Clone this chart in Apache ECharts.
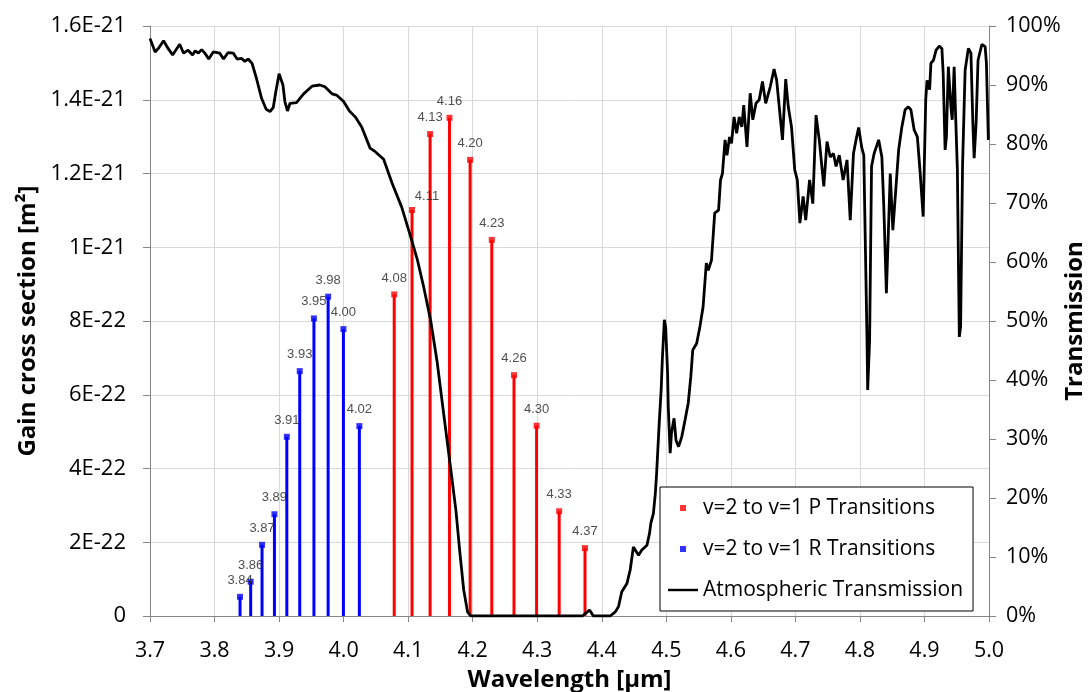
<!DOCTYPE html>
<html>
<head>
<meta charset="utf-8">
<script src="https://cdn.jsdelivr.net/npm/echarts@6/dist/echarts.min.js"></script>
<style>
  html, body { margin: 0; padding: 0; background: #fff; }
  #chart { width: 1089px; height: 692px; }
</style>
</head>
<body>
<div id="chart"></div>
<script>
// v=2 -> v=1 P-branch lines: wavelength [µm] and gain cross section [1E-22 m²]
const pWavelength = [4.0784, 4.106, 4.134, 4.164, 4.196, 4.2296, 4.264, 4.299, 4.334, 4.374];
const pGain       = [8.72, 11.01, 13.07, 13.51, 12.37, 10.20, 6.53, 5.16, 2.84, 1.84];

// v=2 -> v=1 R-branch lines
const rWavelength = [3.8395, 3.856, 3.8736, 3.8928, 3.912, 3.932, 3.954, 3.976, 3.9997, 4.0244];
const rGain       = [0.52, 0.93, 1.93, 2.76, 4.86, 6.64, 8.07, 8.66, 7.78, 5.15];

// Atmospheric transmission [%] versus wavelength [µm]
const atmWavelength = [
  3.700, 3.708, 3.713, 3.721, 3.728, 3.735, 3.746, 3.752, 3.759, 3.766,
  3.770, 3.775, 3.780, 3.785, 3.791, 3.798, 3.808, 3.814, 3.821, 3.829,
  3.835, 3.842, 3.847, 3.852, 3.858, 3.865, 3.873, 3.880, 3.886, 3.891,
  3.895, 3.900, 3.906, 3.909, 3.913, 3.917, 3.927, 3.938, 3.945, 3.951,
  3.963, 3.971, 3.982, 3.989, 4.000, 4.009, 4.018, 4.028, 4.041, 4.049,
  4.062, 4.075, 4.090, 4.103, 4.114, 4.124, 4.135, 4.145, 4.155, 4.166,
  4.174, 4.180, 4.186, 4.192, 4.197, 4.370, 4.381, 4.387, 4.413, 4.421,
  4.426, 4.431, 4.439, 4.444, 4.449, 4.452, 4.457, 4.462, 4.470, 4.474,
  4.476, 4.480, 4.483, 4.485, 4.489, 4.492, 4.494, 4.497, 4.499, 4.502,
  4.503, 4.506, 4.508, 4.512, 4.515, 4.519, 4.524, 4.529, 4.534, 4.538,
  4.541, 4.547, 4.552, 4.557, 4.562, 4.565, 4.570, 4.575, 4.581, 4.584,
  4.587, 4.591, 4.594, 4.598, 4.601, 4.605, 4.609, 4.613, 4.617, 4.620,
  4.625, 4.630, 4.634, 4.639, 4.644, 4.649, 4.654, 4.661, 4.667, 4.671,
  4.675, 4.680, 4.685, 4.689, 4.694, 4.699, 4.703, 4.707, 4.712, 4.716,
  4.722, 4.727, 4.732, 4.737, 4.744, 4.749, 4.754, 4.759, 4.763, 4.768,
  4.774, 4.780, 4.785, 4.790, 4.794, 4.798, 4.803, 4.806, 4.811, 4.812,
  4.815, 4.818, 4.822, 4.829, 4.834, 4.837, 4.841, 4.847, 4.851, 4.854,
  4.860, 4.865, 4.870, 4.875, 4.879, 4.884, 4.889, 4.893, 4.898, 4.902,
  4.904, 4.908, 4.910, 4.914, 4.918, 4.923, 4.927, 4.929, 4.932, 4.934,
  4.937, 4.941, 4.943, 4.946, 4.948, 4.951, 4.954, 4.956, 4.959, 4.963,
  4.968, 4.972, 4.975, 4.977, 4.980, 4.983, 4.989, 4.994, 4.996, 4.999
];
const atmTransmission = [
  97.9, 95.6, 96.2, 97.5, 96.2, 95.1, 96.9, 95.4, 95.9, 95.1,
  95.8, 95.4, 96.0, 95.4, 94.4, 95.6, 95.4, 94.4, 95.5, 95.4,
  94.4, 94.5, 94.0, 94.4, 93.7, 91.1, 87.7, 85.9, 85.5, 86.2,
  88.9, 91.9, 90.0, 87.2, 85.6, 86.9, 87.0, 88.5, 89.2, 89.8,
  90.0, 89.7, 88.5, 88.3, 87.2, 85.6, 84.6, 82.9, 79.3, 78.7,
  77.4, 73.4, 69.3, 64.6, 60.5, 55.8, 50.0, 43.0, 34.3, 24.9,
  17.9, 10.9, 4.5, 0.7, 0.0, 0.0, 1.0, 0.0, 0.0, 0.7,
  1.6, 4.1, 5.5, 7.8, 11.7, 12.0, 10.3, 11.2, 12.0, 14.0,
  15.7, 17.4, 20.8, 24.2, 32.7, 38.3, 43.9, 50.2, 49.0, 41.1,
  35.5, 27.6, 31.0, 33.5, 29.8, 28.7, 30.4, 33.2, 36.1, 40.6,
  45.1, 46.2, 49.0, 52.4, 59.8, 58.6, 60.3, 68.3, 68.8, 73.9,
  75.0, 80.7, 78.1, 81.2, 80.1, 84.6, 81.8, 84.6, 82.9, 86.6,
  79.5, 88.6, 84.1, 86.9, 87.5, 90.6, 86.9, 89.7, 92.7, 90.8,
  86.3, 80.7, 91.0, 86.3, 82.9, 75.6, 73.9, 66.6, 71.1, 67.1,
  73.9, 69.9, 84.9, 80.7, 72.8, 80.4, 77.8, 78.4, 76.2, 78.1,
  73.9, 77.3, 67.1, 78.4, 80.7, 82.8, 79.3, 78.1, 46.8, 38.3,
  46.8, 76.2, 78.4, 80.7, 77.8, 69.4, 54.7, 75.0, 65.4, 69.9,
  79.0, 82.9, 85.8, 86.3, 85.8, 82.4, 81.2, 75.6, 67.7, 87.5,
  90.8, 89.2, 93.7, 94.2, 95.9, 96.6, 96.2, 92.0, 79.0, 81.2,
  93.1, 86.3, 84.1, 93.1, 85.8, 75.6, 47.3, 49.0, 76.2, 92.5,
  96.2, 95.4, 83.5, 77.6, 83.5, 94.2, 96.9, 96.5, 93.7, 80.7
];

// Tick labels of the gain axis (values are in units of 1E-22 m²)
const gainTickLabels = ['0', '2E-22', '4E-22', '6E-22', '8E-22', '1E-21', '1.2E-21', '1.4E-21', '1.6E-21'];

const P_NAME = 'v=2 to v=1 P Transitions';
const R_NAME = 'v=2 to v=1 R Transitions';
const ATM_NAME = 'Atmospheric Transmission';

const FONT = 'Open Sans';
const SQUARE_ICON = 'path://M0,0h10v10h-10z';
const LINE_ICON = 'path://M0,0h32v2.6h-32z';

// label nudges (by point index) so a label clears the transmission curve
const pLabelNudge = { 1: [15, 3] };

function zip(a, b) { return a.map((v, i) => [v, b[i]]); }

function stemSeries(xs, ys, color) {
  return {
    type: 'custom',
    silent: true,
    z: 2,
    data: zip(xs, ys),
    encode: { x: 0, y: 1 },
    renderItem: function (params, api) {
      const x = api.value(0), y = api.value(1);
      const p0 = api.coord([x, 0]);
      const p1 = api.coord([x, y]);
      return {
        type: 'line',
        shape: { x1: p0[0], y1: p0[1], x2: p1[0], y2: p1[1] },
        style: { stroke: color, lineWidth: 3 }
      };
    }
  };
}

function headSeries(name, xs, ys, color, nudge) {
  return {
    name: name,
    type: 'scatter',
    symbol: 'rect',
    symbolSize: 6,
    symbolKeepAspect: true,
    z: 4,
    itemStyle: { color: color },
    data: xs.map((x, i) => {
      const item = { value: [x, ys[i]] };
      if (nudge && nudge[i]) item.label = { offset: nudge[i] };
      return item;
    }),
    label: {
      show: true,
      position: 'top',
      distance: 7,
      formatter: (p) => p.value[0].toFixed(2),
      fontFamily: 'Liberation Sans',
      fontSize: 13,
      color: '#222'
    }
  };
}

const chart = echarts.init(document.getElementById('chart'), null, { renderer: 'canvas' });

chart.setOption({
  animation: false,
  backgroundColor: '#fff',
  grid: { left: 150, right: 100, top: 26, bottom: 76, containLabel: false, outerBoundsMode: 'none' },
  legend: {
    orient: 'vertical',
    left: 660,
    top: 487,
    padding: [8, 10, 8, 8],
    itemGap: 15,
    itemWidth: 30,
    itemHeight: 6,
    symbolKeepAspect: true,
    borderColor: '#000',
    borderWidth: 1,
    borderRadius: 0,
    backgroundColor: '#fff',
    textStyle: { fontFamily: FONT, fontSize: 21, lineHeight: 26, color: '#000' },
    data: [
      { name: P_NAME, icon: SQUARE_ICON },
      { name: R_NAME, icon: SQUARE_ICON },
      { name: ATM_NAME, icon: LINE_ICON }
    ]
  },
  xAxis: {
    type: 'value',
    min: 3.7,
    max: 5.0,
    interval: 0.1,
    name: 'Wavelength [µm]',
    nameLocation: 'middle',
    nameGap: 52,
    nameTextStyle: { fontFamily: FONT, fontSize: 24, fontWeight: 'bold', color: '#000' },
    axisLine: { show: true, onZero: false, lineStyle: { color: '#868686', width: 1 } },
    axisTick: { show: true, inside: false, length: 6, lineStyle: { color: '#868686' } },
    axisLabel: {
      fontFamily: FONT, fontSize: 21.5, color: '#000', margin: 24,
      formatter: (v) => v.toFixed(1)
    },
    splitLine: { show: true, lineStyle: { color: '#d9d9d9', width: 1 } }
  },
  yAxis: [
    {
      type: 'value',
      position: 'left',
      min: 0,
      max: 16,
      interval: 2,
      name: 'Gain cross section [m²]',
      nameLocation: 'middle',
      nameRotate: 90,
      nameGap: 105,
      nameTextStyle: { fontFamily: FONT, fontSize: 24, fontWeight: 'bold', color: '#000' },
      axisLine: { show: true, lineStyle: { color: '#868686', width: 1 } },
      axisTick: { show: true, inside: false, length: 7, lineStyle: { color: '#868686' } },
      axisLabel: {
        fontFamily: FONT, fontSize: 22, color: '#000', margin: 24,
        formatter: (v) => gainTickLabels[Math.round(v / 2)]
      },
      splitLine: { show: true, lineStyle: { color: '#d9d9d9', width: 1 } }
    },
    {
      type: 'value',
      position: 'right',
      min: 0,
      max: 100,
      interval: 10,
      name: 'Transmission',
      nameLocation: 'middle',
      nameRotate: 90,
      nameGap: 74,
      nameMoveOverlap: false,
      nameTextStyle: { fontFamily: FONT, fontSize: 24, fontWeight: 'bold', color: '#000' },
      axisLine: { show: true, lineStyle: { color: '#868686', width: 1 } },
      axisTick: { show: true, inside: false, length: 7, lineStyle: { color: '#868686' } },
      axisLabel: {
        fontFamily: FONT, fontSize: 21.5, color: '#000', margin: 17,
        formatter: (v) => v + '%'
      },
      splitLine: { show: false }
    }
  ],
  series: [
    stemSeries(rWavelength, rGain, '#0000ff'),
    stemSeries(pWavelength, pGain, '#ff0000'),
    headSeries(R_NAME, rWavelength, rGain, '#0000ff'),
    headSeries(P_NAME, pWavelength, pGain, '#ff0000', pLabelNudge),
    {
      name: ATM_NAME,
      type: 'line',
      yAxisIndex: 1,
      z: 3,
      showSymbol: false,
      symbol: 'none',
      smooth: false,
      silent: true,
      lineStyle: { color: '#000', width: 2.8 },
      itemStyle: { color: '#000' },
      data: zip(atmWavelength, atmTransmission)
    }
  ]
});
</script>
</body>
</html>
